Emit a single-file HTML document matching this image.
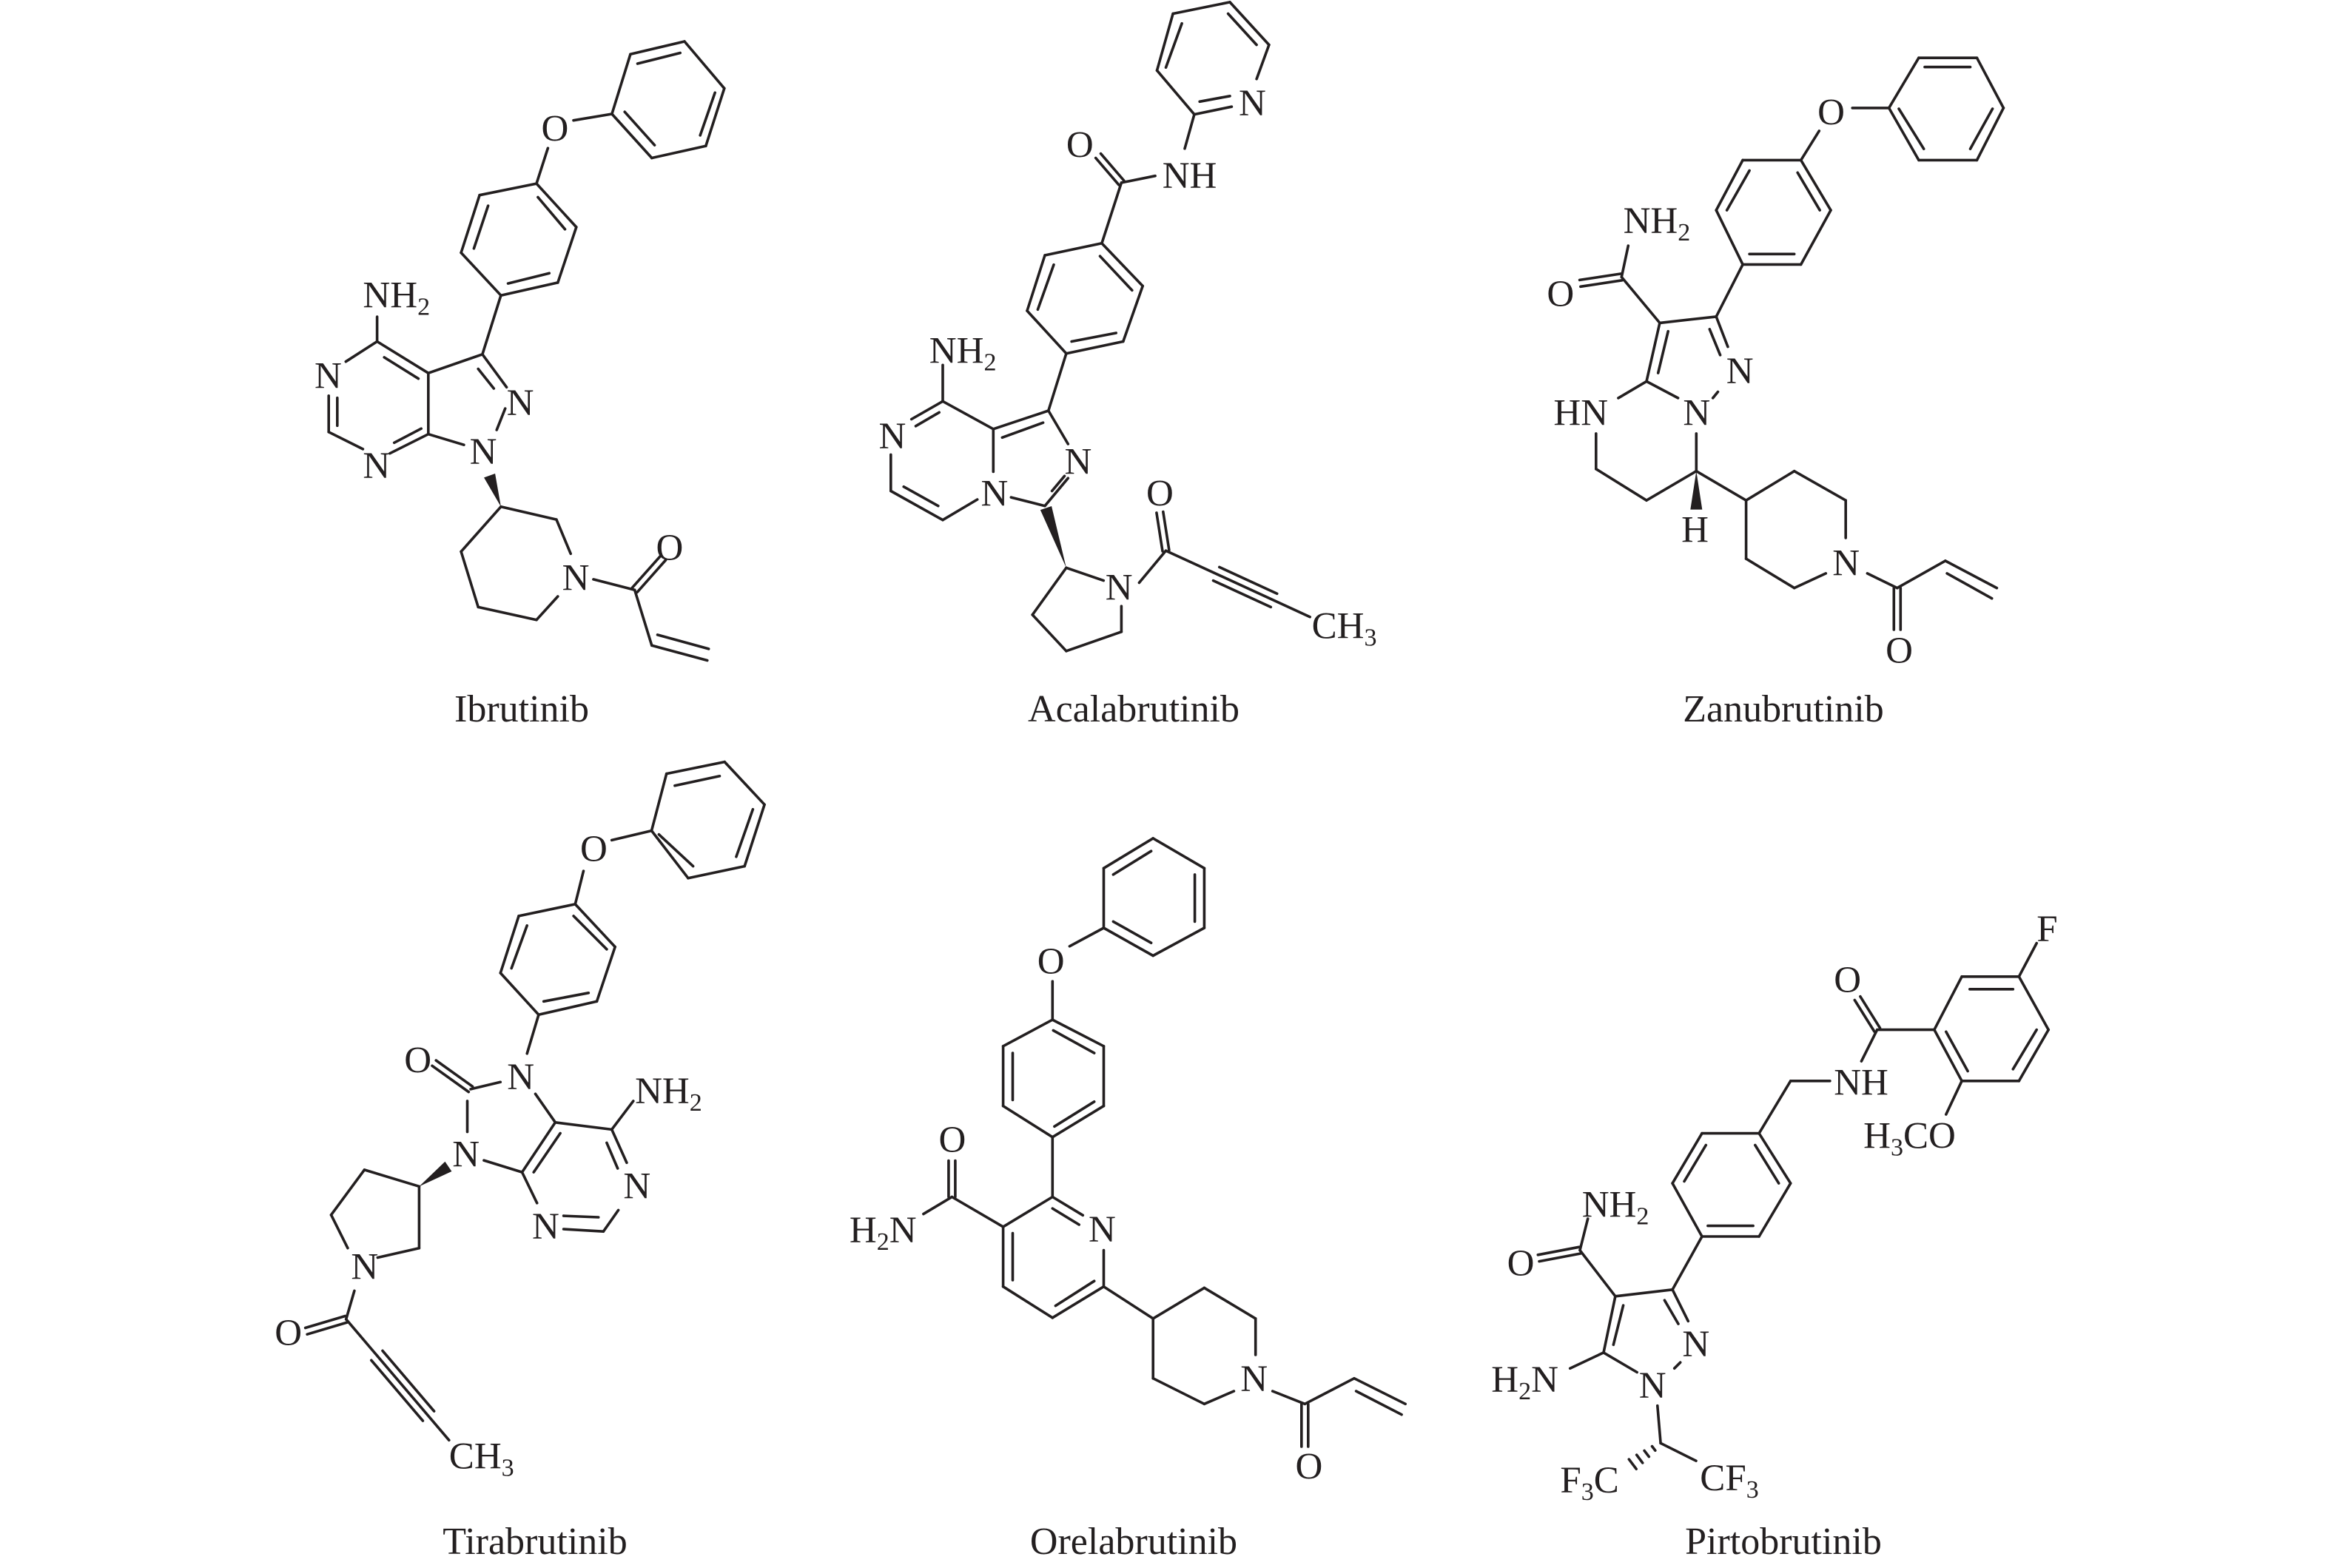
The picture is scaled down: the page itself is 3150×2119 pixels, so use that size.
<!DOCTYPE html>
<html><head><meta charset="utf-8"><style>
html,body{margin:0;padding:0;background:#fff}
svg{display:block}
text{font-family:"Liberation Serif",serif;font-size:51px;fill:#231f20}
.nm{font-size:52px}
</style></head><body>
<svg id="s" width="3150" height="2119" viewBox="0 0 3150 2119" xmlns="http://www.w3.org/2000/svg">
<rect width="3150" height="2119" fill="#fff"/>
<g id="bonds" stroke="#231f20" stroke-width="3.6" stroke-linecap="round" fill="none"></g>
<g id="wedges" fill="#231f20"></g>
<g id="m1">
<text x="862" y="278">O</text><text x="235" y="668">NH<tspan dy="10" font-size="34">2</tspan></text>
<text x="65" y="857">N</text><text x="740" y="920">N</text><text x="610" y="1035">N</text>
<text x="235" y="1068">N</text><text x="935" y="1330">N</text><text x="1265" y="1260">O</text>
</g>
<g id="m2">
<text x="1090" y="270">N</text><text x="875" y="440">NH</text><text x="605" y="368">O</text>
<text x="220" y="850">NH<tspan dy="10" font-size="34">2</tspan></text>
<text x="600" y="1110">N</text><text x="365" y="1185">N</text><text x="78" y="1050">N</text>
<text x="715" y="1405">N</text><text x="830" y="1185">O</text>
<text x="1295" y="1495">CH<tspan dy="10" font-size="34">3</tspan></text>
</g>
<g id="m3">
<text x="905" y="210">O</text><text x="630" y="830">N</text><text x="500" y="930">N</text>
<text x="110" y="930">HN</text><text x="495" y="1210">H</text>
<text x="320" y="470">NH<tspan dy="10" font-size="34">2</tspan></text>
<text x="90" y="645">O</text><text x="950" y="1290">N</text><text x="1110" y="1500">O</text>
</g>
<g id="m4">
<text x="945" y="225">O</text><text x="725" y="705">N</text><text x="415" y="670">O</text>
<text x="560" y="868">N</text><text x="1110" y="735">NH<tspan dy="10" font-size="34">2</tspan></text>
<text x="1075" y="935">N</text><text x="800" y="1020">N</text><text x="255" y="1105">N</text>
<text x="25" y="1245">O</text><text x="550" y="1505">CH<tspan dy="10" font-size="34">3</tspan></text>
</g>
<g id="m5">
<text x="530" y="322">O</text><text x="665" y="950">N</text><text x="270" y="740">O</text>
<text x="35" y="952">H<tspan dy="10" font-size="34">2</tspan><tspan dy="-10">N</tspan></text>
<text x="1065" y="1300">N</text><text x="1210" y="1505">O</text>
</g>
<g id="m6">
<text x="1395" y="60">F</text><text x="880" y="190">O</text><text x="880" y="450">NH</text>
<text x="955" y="585">H<tspan dy="10" font-size="34">3</tspan><tspan dy="-10">CO</tspan></text>
<text x="240" y="760">NH<tspan dy="10" font-size="34">2</tspan></text>
<text x="50" y="910">O</text><text x="495" y="1115">N</text><text x="385" y="1220">N</text>
<text x="10" y="1205">H<tspan dy="10" font-size="34">2</tspan><tspan dy="-10">N</tspan></text>
<text x="185" y="1460">F<tspan dy="10" font-size="34">3</tspan><tspan dy="-10">C</tspan></text>
<text x="540" y="1455">CF<tspan dy="10" font-size="34">3</tspan></text>
</g>
<text class="nm" x="705" y="975" text-anchor="middle">Ibrutinib</text>
<text class="nm" x="1532" y="975" text-anchor="middle">Acalabrutinib</text>
<text class="nm" x="2410" y="975" text-anchor="middle">Zanubrutinib</text>
<text class="nm" x="723" y="2100" text-anchor="middle">Tirabrutinib</text>
<text class="nm" x="1532" y="2100" text-anchor="middle">Orelabrutinib</text>
<text class="nm" x="2410" y="2100" text-anchor="middle">Pirtobrutinib</text>
</svg>
<script>
var R={m1:[400,30,600,900],m2:[1150,0,750,900],m3:[2050,50,700,880],m4:[360,1020,700,1000],m5:[1130,1130,800,900],m6:[2010,1240,830,830]};
var M;function use(k){var r=R[k];M=function(x,y){return [r[0]+x*r[2]/1560,r[1]+y*r[3]/1560];};}
var bo='',wo='';
function ln(p,q){bo+='<line x1="'+p[0].toFixed(1)+'" y1="'+p[1].toFixed(1)+'" x2="'+q[0].toFixed(1)+'" y2="'+q[1].toFixed(1)+'"/>';}
function L(a,b,c,d){ln(M(a,b),M(c,d));}
function perp(p,q){var dx=q[0]-p[0],dy=q[1]-p[1],l=Math.hypot(dx,dy);return [-dy/l,dx/l,dx/l,dy/l];}
function D(a,b,c,d){var p=M(a,b),q=M(c,d),n=perp(p,q),o=4.5;ln([p[0]+n[0]*o,p[1]+n[1]*o],[q[0]+n[0]*o,q[1]+n[1]*o]);ln([p[0]-n[0]*o,p[1]-n[1]*o],[q[0]-n[0]*o,q[1]-n[1]*o]);}
function T(a,b,c,d,f0,f1){var p=M(a,b),q=M(c,d),n=perp(p,q),o=10;ln(p,q);
 var A=[p[0]+(q[0]-p[0])*f0,p[1]+(q[1]-p[1])*f0],B=[p[0]+(q[0]-p[0])*f1,p[1]+(q[1]-p[1])*f1];
 ln([A[0]+n[0]*o,A[1]+n[1]*o],[B[0]+n[0]*o,B[1]+n[1]*o]);ln([A[0]-n[0]*o,A[1]-n[1]*o],[B[0]-n[0]*o,B[1]-n[1]*o]);}
function W(a,b,c,d){var p=M(a,b),q=M(c,d),n=perp(p,q),o=8;wo+='<polygon points="'+p[0]+','+p[1]+' '+(q[0]+n[0]*o)+','+(q[1]+n[1]*o)+' '+(q[0]-n[0]*o)+','+(q[1]-n[1]*o)+'"/>';}
function H(a,b,c,d){var p=M(a,b),q=M(c,d),n=perp(p,q);for(var i=1;i<=4;i++){var f=i/4.5,o=2+7*f,x=p[0]+(q[0]-p[0])*f,y=p[1]+(q[1]-p[1])*f;ln([x+n[0]*o,y+n[1]*o],[x-n[0]*o,y-n[1]*o]);}}
function poly(a){for(var i=0;i<a.length-1;i++)L(a[i][0],a[i][1],a[i+1][0],a[i+1][1]);}
use('m1');
poly([[1175,75],[1365,45],[1505,155],[1440,290],[1250,318],[1110,215],[1175,75]]);
L(1200,97,1350,72);L(1472,165,1420,265);L(1155,210,1260,288);
L(975,230,1110,215);L(885,295,845,378);
poly([[845,378],[985,480],[920,610],[720,640],[580,540],[645,405],[845,378]]);
L(850,410,945,485);L(890,588,745,612);L(625,530,675,430);
L(720,640,655,778);L(655,778,465,822);L(655,778,740,855);L(640,812,695,858);
L(735,905,705,955);L(465,965,590,990);L(465,822,465,965);
L(285,748,465,822);L(310,785,430,835);L(285,748,175,795);
L(115,875,115,960);L(145,880,145,945);L(115,960,235,1000);L(330,1010,465,965);L(345,985,440,952);
L(285,690,285,748);W(720,1135,680,1062);
poly([[720,1135],[915,1165],[965,1245]]);poly([[920,1345],[845,1400],[640,1370],[580,1240],[720,1135]]);
L(1045,1305,1190,1330);D(1190,1330,1290,1255);L(1190,1330,1250,1460);L(1250,1460,1445,1495);L(1270,1435,1450,1468);
use('m2');
poly([[1140,185],[1175,105],[1065,5],[905,32],[860,165],[965,268],[1070,250]]);
L(1060,32,1140,105);L(885,158,930,55);L(980,238,1065,225);
L(965,268,938,348);L(855,412,760,428);D(760,428,695,365);L(760,428,705,570);
poly([[705,570],[820,670],[765,800],[605,828],[495,728],[545,598],[705,570]]);
L(700,600,790,680);L(620,800,745,780);L(525,725,570,620);
L(605,828,555,962);L(555,962,400,1005);L(540,990,425,1025);L(555,962,610,1040);
L(610,1120,545,1185);L(565,1150,600,1115);L(545,1185,450,1165);L(400,1005,400,1105);
L(258,940,400,1005);L(258,940,170,982);L(248,966,182,998);L(112,1065,112,1150);L(112,1150,258,1218);L(148,1140,245,1185);L(258,1218,355,1170);
L(258,855,258,940);W(605,1330,548,1190);
L(605,1330,710,1360);L(760,1420,760,1480);poly([[760,1480],[605,1525],[510,1440],[605,1330]]);
L(810,1365,885,1290);D(885,1290,868,1200);T(885,1290,1290,1445,0.35,0.75);
use('m3');
poly([[1120,170],[1210,50],[1385,50],[1465,170],[1385,295],[1210,295],[1120,170]]);
L(1228,72,1365,72);L(1432,172,1365,268);L(1225,268,1150,172);
L(1010,170,1120,170);L(910,225,855,295);
poly([[855,295],[945,415],[855,545],[680,545],[600,415],[680,295],[855,295]]);
L(845,325,912,415);L(700,520,835,520);L(632,415,700,320);
L(680,545,600,670);L(600,670,635,742);L(580,700,612,762);L(605,850,590,865);
L(390,825,485,865);L(390,825,430,685);L(425,805,455,705);L(430,685,600,670);
L(430,685,315,575);D(315,575,190,590);L(315,575,335,500);
L(390,825,305,865);L(238,950,238,1035);poly([[238,1035],[390,1110],[540,1040]]);L(540,1040,540,950);
W(540,1040,540,1132);L(540,1040,690,1110);
poly([[990,1200],[990,1110],[835,1040],[690,1110],[690,1250],[835,1320],[930,1285]]);
L(1055,1285,1145,1320);D(1145,1320,1145,1420);L(1145,1320,1290,1255);L(1290,1255,1445,1320);L(1295,1285,1430,1345);
use('m4');
poly([[1205,40],[1380,15],[1500,105],[1440,235],[1270,260],[1160,160],[1205,40]]);
L(1230,65,1365,45);L(1465,115,1415,215);L(1182,168,1285,235);
L(1040,180,1160,160);L(955,245,930,315);
poly([[930,315],[1050,405],[995,520],[820,548],[705,460],[760,340],[930,315]]);
L(925,340,1025,410);L(835,520,970,502);L(738,450,785,360);
L(820,548,785,630);L(705,690,615,705);D(615,705,505,650);L(605,730,605,795);
L(655,855,770,880);L(770,880,870,775);L(805,880,885,798);L(870,775,810,715);
L(870,775,1040,790);L(1040,790,1105,730);L(1040,790,1085,860);L(1025,818,1058,872);
L(1060,960,1015,1005);L(1015,1005,895,1000);L(1000,975,895,972);L(815,945,770,880);
W(460,910,548,868);
poly([[460,1040],[460,910],[295,875],[195,970],[245,1040]]);L(335,1060,460,1040);
L(265,1130,240,1190);D(240,1190,120,1215);T(240,1190,550,1445,0.3,0.8);
use('m5');
poly([[835,5],[970,75],[970,215],[835,280],[705,215],[705,75],[835,5]]);
L(830,35,730,90);L(945,90,945,200);L(830,250,730,200);
L(615,258,705,215);L(570,340,570,430);
poly([[570,430],[705,492],[705,632],[570,705],[440,632],[440,492],[570,430]]);
L(572,455,680,508);L(680,622,575,680);L(465,508,465,618);
L(570,705,570,845);L(570,845,650,888);L(570,872,640,910);L(705,970,705,1055);
L(705,1055,570,1128);L(680,1042,578,1100);L(570,1128,440,1055);L(440,1055,440,915);L(465,1040,465,930);L(440,915,570,845);
L(440,915,305,845);D(305,845,305,760);L(305,845,230,885);
L(705,1055,835,1130);
poly([[1105,1215],[1105,1130],[970,1058],[835,1130],[835,1270],[970,1330],[1048,1300]]);
L(1150,1300,1235,1330);D(1235,1330,1235,1430);L(1235,1330,1365,1270);L(1365,1270,1500,1330);L(1370,1300,1490,1355);
use('m6');
L(1395,65,1350,150);
poly([[1350,150],[1205,150],[1135,285],[1205,415],[1350,415],[1425,285],[1350,150]]);
L(1225,182,1335,182);L(1165,290,1220,390);L(1335,385,1395,285);
L(1135,285,990,285);D(990,285,940,205);L(990,285,950,365);L(870,415,770,415);L(770,415,690,548);
L(1205,415,1165,500);
poly([[690,548],[545,548],[470,675],[545,810],[690,810],[770,675],[690,548]]);
L(680,578,740,675);L(555,578,500,670);L(560,783,675,783);
L(545,810,470,945);L(470,945,510,1025);L(450,972,485,1032);L(490,1130,475,1145);
L(295,1105,380,1155);L(295,1105,325,962);L(320,1085,345,985);L(325,962,470,945);
L(325,962,235,845);D(235,845,130,865);L(235,845,255,765);L(295,1105,210,1145);
L(432,1240,440,1335);L(440,1335,530,1380);H(440,1335,360,1395);
document.getElementById('bonds').innerHTML=bo;
document.getElementById('wedges').innerHTML=wo;
for(var k in R){use(k);var ts=document.querySelectorAll('#'+k+'>text');for(var i=0;i<ts.length;i++){var t=ts[i],p=M(+t.getAttribute('x'),+t.getAttribute('y'));t.setAttribute('x',p[0].toFixed(1));t.setAttribute('y',p[1].toFixed(1));}}
</script>
</body></html>
